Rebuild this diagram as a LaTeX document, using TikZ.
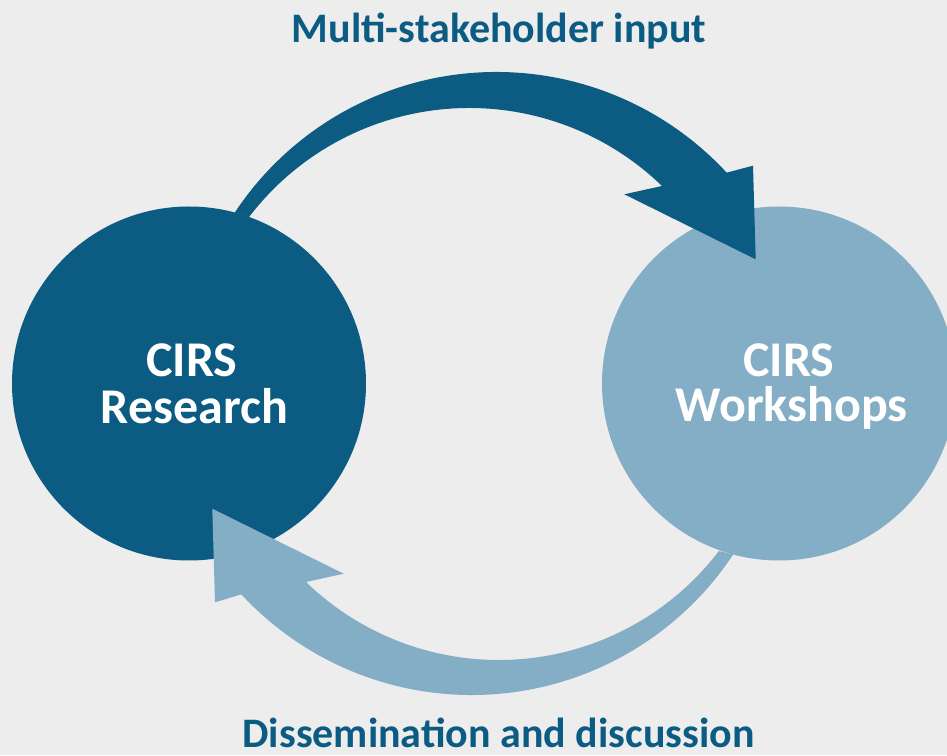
\documentclass[tikz,border=0pt]{standalone}
\usepackage{fontspec}
\setmainfont{Carlito}
\definecolor{cdark}{HTML}{0B5B82}
\definecolor{clight}{HTML}{84AEC5}
\definecolor{cbg}{HTML}{EDEDED}
\tikzset{
  bubble/.style={circle, minimum size=354pt, inner sep=0pt, outer sep=0pt},
  bubbletext/.style={anchor=base, text=white, inner sep=0pt, font=\bfseries\fontsize{50}{45}\selectfont},
  looplabel/.style={anchor=base, text=cdark, inner sep=0pt, font=\bfseries\fontsize{42}{50}\selectfont}
}
\begin{document}
\begin{tikzpicture}[x=1pt,y=1pt]
\fill[cbg] (0,0) rectangle (947,755);
\useasboundingbox (0,0) rectangle (947,755);

% circles
\node[bubble, fill=cdark] (research) at (189,371.5) {};
\node[bubble, fill=clight] (workshops) at (779,371.5) {};

% top arrow: research -> workshops
\fill[cdark] (research.75.8) arc[start angle=146.5, end angle=42.77, radius=313.7]
  -- (753,589.3) -- (755.7,495.7) -- (624.3,560.7) -- (662,569)
  arc[start angle=45.92, end angle=142.67, radius=277] -- cycle;

% bottom arrow: workshops -> research
\fill[clight] (workshops.255.8) arc[start angle=326.5, end angle=222.77, radius=313.7]
  -- (215,152.7) -- (212.3,246.3) -- (343.7,181.3) -- (306,173)
  arc[start angle=225.92, end angle=322.67, radius=277] -- cycle;

% circle texts
\node[bubbletext] (researchA) at (192,378) {CIRS};
\node[bubbletext] (researchB) at (194.5,331.7) {Research};
\node[bubbletext] (workshopsA) at (789,378) {CIRS};
\node[bubbletext] (workshopsB) at (791.7,333.3) {Workshops};

% labels
\node[looplabel] (toplabel) at (499,712) {Multi-stakeholder input};
\node[looplabel] (bottomlabel) at (498.5,8) {Dissemination and discussion};
\end{tikzpicture}
\end{document}
